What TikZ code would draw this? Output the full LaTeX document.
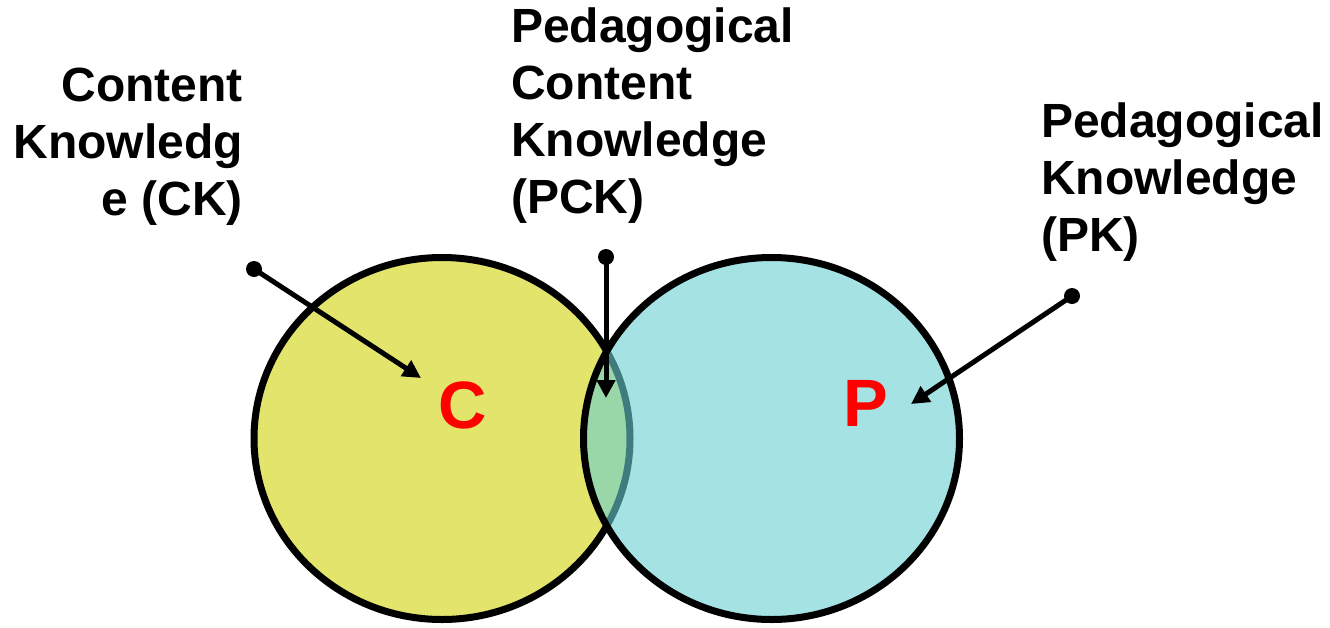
\documentclass[tikz,border=0pt]{standalone}
\usepackage{fontspec}
\setmainfont{Liberation Sans}
\usetikzlibrary{arrows.meta}

\definecolor{ckyellow}{RGB}{227,228,107}
\definecolor{pkcyan}{RGB}{105,207,210}
\definecolor{letterred}{RGB}{255,0,0}

\begin{document}
\begin{tikzpicture}[
  x=1pt, y=-1pt,
  lbl/.style    = {font=\fontsize{48}{57}\selectfont\bfseries, inner sep=0pt},
  letter/.style = {font=\fontsize{67}{80}\selectfont\bfseries, text=letterred,
                   inner sep=0pt},
  ring/.style   = {draw=black, line width=7pt},
  pin/.style    = {circle, fill=black, inner sep=0pt, minimum size=16pt},
  pointer/.style = {-{Triangle[length=18pt,width=18pt]}, line width=5pt},
]
\useasboundingbox (0,0) rectangle (1330,627);

%% ==== the two circles, P on top and see-through ============================
\draw[ring, fill=ckyellow] (442,438.5) ellipse [x radius=188, y radius=181];
\draw[ring, fill=pkcyan, fill opacity=0.6]
  (771.5,438.5) ellipse [x radius=188, y radius=181];

%% ==== letters inside the circles ===========================================
\node[letter] (c) at (463,405) {C};
\node[letter] (p) at (866,403) {P};

%% ==== labels (base anchor sits on the last line) ===========================
\node[lbl, align=right, anchor=base east] (ck) at (243,215)
  {Content\\Knowledg\\e (CK)};
\node[lbl, align=left, anchor=base west] (pck) at (511,213)
  {Pedagogical\\Content\\Knowledge\\(PCK)};
\node[lbl, align=left, anchor=base west] (pk) at (1041,251)
  {Pedagogical\\Knowledge\\(PK)};

%% ==== pointers from the labels into the circles ============================
\node[pin] (ckpin)  at (254,269) {};
\node[pin] (pckpin) at (606,257) {};
\node[pin] (pkpin)  at (1072,296) {};
\coordinate (cktip)  at (421,378);
\coordinate (pcktip) at (606,398);
\coordinate (pktip)  at (911,404);

\draw[pointer] (ckpin.center)  -- (cktip);
\draw[pointer] (pckpin.center) -- (pcktip);
\draw[pointer] (pkpin.center)  -- (pktip);

\end{tikzpicture}
\end{document}
